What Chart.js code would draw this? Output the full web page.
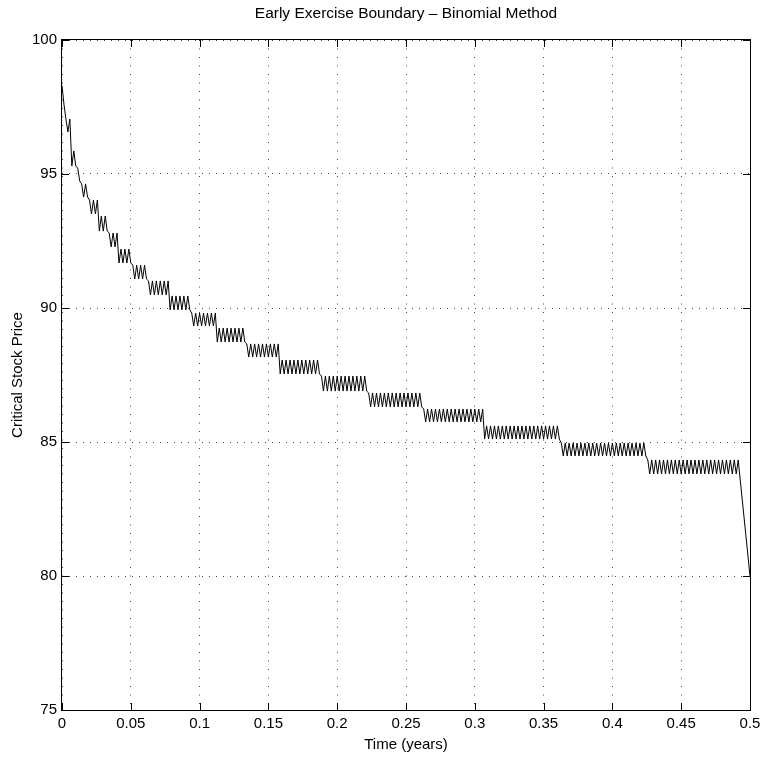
<!DOCTYPE html>
<html>
<head>
<meta charset="utf-8">
<title>Early Exercise Boundary</title>
<script src="https://cdn.jsdelivr.net/npm/chart.js@4.4.0/dist/chart.umd.min.js"></script>
<style>
  html, body { margin: 0; padding: 0; background: #fff; }
  canvas { display: block; }
</style>
</head>
<body>
<canvas id="grafico" width="761" height="758"></canvas>
<script>
// binomial tree: 350 steps over half a year
var timeStep = 0.5 / 350;
var expiryTime = 0.5;
var expiryPrice = 80;

// critical stock price at each time step
var criticalPrice = [
    98.3, 97.6,
    97.05, 96.57, 97.05,
    95.30, 95.86, 95.30,
    95.22, 94.74,
    94.63, 94.14, 94.63, 94.14,
    94.03, 93.51, 94.03, 93.51, 94.03,
    92.87, 93.43, 92.87, 93.43, 92.87,
    92.80, 92.28, 92.80, 92.28, 92.80,
    91.68, 92.20, 91.68, 92.20, 91.68, 92.20, 91.68,
    91.60, 91.08, 91.60, 91.08, 91.60, 91.08, 91.60, 91.08,
    91.01, 90.49, 91.01, 90.49, 91.01, 90.49, 91.01, 90.49, 91.01, 90.49, 91.01,
    89.93, 90.45, 89.93, 90.45, 89.93, 90.45, 89.93, 90.45, 89.93, 90.45, 89.93,
    89.81, 89.33, 89.81, 89.33, 89.81, 89.33, 89.81, 89.33, 89.81, 89.33, 89.81, 89.33, 89.81,
    88.73, 89.25, 88.73, 89.25, 88.73, 89.25, 88.73, 89.25, 88.73, 89.25, 88.73, 89.25, 88.73, 89.25, 88.73,
    88.66, 88.17, 88.66, 88.17, 88.66, 88.17, 88.66, 88.17, 88.66, 88.17, 88.66, 88.17, 88.66, 88.17, 88.66, 88.17, 88.66,
    87.54, 88.06, 87.54, 88.06, 87.54, 88.06, 87.54, 88.06, 87.54, 88.06,
    87.54, 88.06, 87.54, 88.06, 87.54, 88.06, 87.54, 88.06, 87.54, 88.06,
    87.54,
    87.46, 86.90, 87.46, 86.90, 87.46, 86.90, 87.46, 86.90, 87.46, 86.90,
    87.46, 86.90, 87.46, 86.90, 87.46, 86.90, 87.46, 86.90, 87.46, 86.90,
    87.46, 86.90, 87.46, 86.90,
    86.83, 86.31, 86.83, 86.31, 86.83, 86.31, 86.83, 86.31, 86.83, 86.31,
    86.83, 86.31, 86.83, 86.31, 86.83, 86.31, 86.83, 86.31, 86.83, 86.31,
    86.83, 86.31, 86.83, 86.31, 86.83, 86.31, 86.83, 86.31,
    86.23, 85.75, 86.23, 85.75, 86.23, 85.75, 86.23, 85.75, 86.23, 85.75,
    86.23, 85.75, 86.23, 85.75, 86.23, 85.75, 86.23, 85.75, 86.23, 85.75,
    86.23, 85.75, 86.23, 85.75, 86.23, 85.75, 86.23, 85.75, 86.23, 85.75,
    86.23,
    85.11, 85.60, 85.11, 85.60, 85.11, 85.60, 85.11, 85.60, 85.11, 85.60,
    85.11, 85.60, 85.11, 85.60, 85.11, 85.60, 85.11, 85.60, 85.11, 85.60,
    85.11, 85.60, 85.11, 85.60, 85.11, 85.60, 85.11, 85.60, 85.11, 85.60,
    85.11, 85.60, 85.11, 85.60, 85.11, 85.60, 85.11, 85.60,
    85.11,
    84.96, 84.48, 84.96, 84.48, 84.96, 84.48, 84.96, 84.48, 84.96, 84.48,
    84.96, 84.48, 84.96, 84.48, 84.96, 84.48, 84.96, 84.48, 84.96, 84.48,
    84.96, 84.48, 84.96, 84.48, 84.96, 84.48, 84.96, 84.48, 84.96, 84.48,
    84.96, 84.48, 84.96, 84.48, 84.96, 84.48, 84.96, 84.48, 84.96, 84.48,
    84.96, 84.48, 84.96, 84.48,
    84.33, 83.81, 84.33, 83.81, 84.33, 83.81, 84.33, 83.81, 84.33, 83.81,
    84.33, 83.81, 84.33, 83.81, 84.33, 83.81, 84.33, 83.81, 84.33, 83.81,
    84.33, 83.81, 84.33, 83.81, 84.33, 83.81, 84.33, 83.81, 84.33, 83.81,
    84.33, 83.81, 84.33, 83.81, 84.33, 83.81, 84.33, 83.81, 84.33, 83.81,
    84.33, 83.81, 84.33, 83.81, 84.33, 83.81,
    84.33
];

var xTicks = [0, 0.05, 0.1, 0.15, 0.2, 0.25, 0.3, 0.35, 0.4, 0.45, 0.5];
var yTicks = [75, 80, 85, 90, 95, 100];
var chartTitle = 'Early Exercise Boundary \u2013 Binomial Method';

var points = criticalPrice.map(function (p, i) {
    return { x: i * timeStep, y: p };
});
points.push({ x: expiryTime, y: expiryPrice });

Chart.defaults.font.family = '"Liberation Sans", Arial, Helvetica, sans-serif';
Chart.defaults.font.size = 15;
Chart.defaults.color = '#000';

// matlab style box with ticks pointing inwards, title centred on the axes
var boxPlugin = {
    id: 'box',
    afterDraw: function (chart) {
        var ctx = chart.ctx;
        var a = chart.chartArea;
        var xs = chart.scales.x;
        var ys = chart.scales.y;
        var len = 7;
        ctx.save();
        ctx.strokeStyle = '#000';
        ctx.lineWidth = 1;
        ctx.beginPath();
        xs.ticks.forEach(function (t) {
            var px = Math.round(xs.getPixelForValue(t.value)) + 0.5;
            ctx.moveTo(px, a.bottom);
            ctx.lineTo(px, a.bottom - len);
            ctx.moveTo(px, a.top);
            ctx.lineTo(px, a.top + len);
        });
        ys.ticks.forEach(function (t) {
            var py = Math.round(ys.getPixelForValue(t.value)) + 0.5;
            ctx.moveTo(a.left, py);
            ctx.lineTo(a.left + len, py);
            ctx.moveTo(a.right, py);
            ctx.lineTo(a.right - len, py);
        });
        ctx.stroke();
        ctx.strokeRect(Math.round(a.left) - 0.5, Math.round(a.top) - 0.5,
            Math.round(a.right - a.left) + 1, Math.round(a.bottom - a.top) + 1);

        ctx.fillStyle = '#000';
        ctx.font = '15.5px "Liberation Sans", Arial, Helvetica, sans-serif';
        ctx.textAlign = 'center';
        ctx.textBaseline = 'middle';
        ctx.fillText(chartTitle, (a.left + a.right) / 2, 14);
        ctx.restore();
    }
};

var ctx = document.querySelector('#grafico').getContext('2d');
var boundaryChart = new Chart(ctx, {
    type: 'line',
    data: {
        datasets: [{
            label: 'Critical Stock Price',
            data: points,
            borderColor: '#000',
            borderWidth: 1,
            pointRadius: 0,
            tension: 0,
            fill: false
        }]
    },
    options: {
        responsive: false,
        animation: false,
        layout: { padding: { left: 0, right: 11, top: 40, bottom: 0 } },
        plugins: {
            legend: { display: false },
            tooltip: { enabled: false },
            title: { display: false }
        },
        scales: {
            x: {
                type: 'linear',
                min: 0,
                max: 0.5,
                afterBuildTicks: function (scale) {
                    scale.ticks = xTicks.map(function (v) { return { value: v }; });
                },
                afterFit: function (scale) {
                    scale.height = 48;
                    scale.paddingLeft = 0;
                    scale.paddingRight = 0;
                },
                ticks: {
                    padding: 5,
                    maxRotation: 0,
                    callback: function (v) { return String(Number(v.toFixed(2))); }
                },
                grid: { color: '#444', lineWidth: 1, drawTicks: false },
                border: { display: false, dash: [1, 7.5] },
                title: {
                    display: true,
                    text: 'Time (years)',
                    font: { size: 15 },
                    padding: { top: 0, bottom: 4 }
                }
            },
            y: {
                type: 'linear',
                min: 75,
                max: 100,
                afterBuildTicks: function (scale) {
                    scale.ticks = yTicks.map(function (v) { return { value: v }; });
                },
                afterFit: function (scale) {
                    scale.width = 62;
                    scale.paddingTop = 0;
                    scale.paddingBottom = 0;
                },
                ticks: { padding: 5 },
                grid: { color: '#444', lineWidth: 1, drawTicks: false },
                border: { display: false, dash: [1, 6] },
                title: {
                    display: true,
                    text: 'Critical Stock Price',
                    font: { size: 15 },
                    padding: { top: 9, bottom: 0 }
                }
            }
        }
    },
    plugins: [boxPlugin]
});
</script>
</body>
</html>
